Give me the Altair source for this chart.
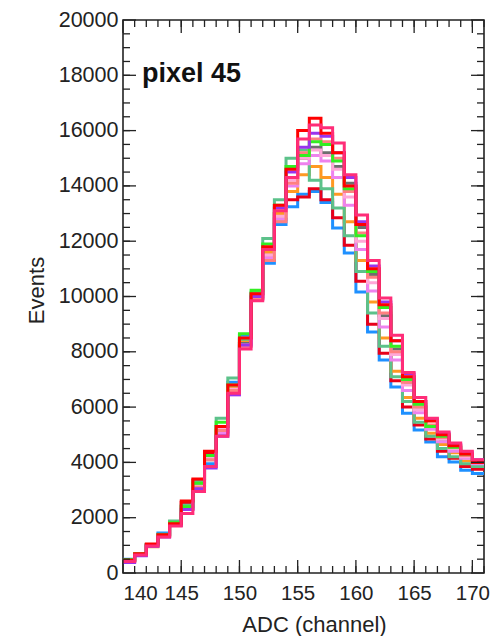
import altair as alt
import pandas as pd

# ADC channel bin starts (width 1 channel)
channels = list(range(140, 171))

# Series values (Events per bin)
s_blue = [500, 660, 1030, 1450, 1850, 2400, 3000, 3950, 5300, 6900, 8600, 10100,
          11200, 12600, 13250, 13700, 13800, 13400, 12480, 11570, 10160, 8720, 7700, 6730, 5780, 5170, 4740, 4200, 4010, 3720, 3600]
s_red_lo = [470, 680, 1020, 1350, 1760, 2550, 3350, 4350, 5100, 6600, 8300, 9950,
            11500, 13000, 13500, 13600, 13900, 13500, 12850, 11850, 10550, 9000, 7950, 6950, 6000, 5350, 4850, 4400, 4150, 3850, 3750]
s_orange = [460, 640, 950, 1350, 1760, 2350, 3200, 4200, 5200, 6700, 8400, 10050,
            11600, 13000, 13800, 14400, 14700, 14300, 13700, 12700, 11300, 9800, 8500, 7300, 6350, 5600, 5050, 4650, 4350, 4050, 3900]
s_seagreen = [440, 670, 1000, 1400, 1880, 2450, 3300, 4250, 5600, 7050, 8450, 10150,
              12100, 13500, 15000, 15300, 14200, 13900, 13200, 12200, 10900, 9400, 8200, 7100, 6200, 5450, 4950, 4500, 4200, 3950, 3850]
s_gray = [430, 650, 1000, 1330, 1740, 2330, 3150, 4100, 5000, 6600, 8300, 9950,
          11300, 12800, 14300, 15000, 15400, 15200, 14700, 14100, 12500, 10800, 9300, 8100, 6900, 6000, 5300, 4800, 4450, 4200, 4000]
s_violet = [430, 640, 990, 1340, 1760, 2350, 3100, 3850, 5050, 6450, 8200, 9900,
            11400, 12800, 14000, 14800, 15100, 14900, 14300, 13300, 11700, 10200, 8900, 7700, 6600, 5800, 5200, 4750, 4400, 4150, 3950]
s_lightpink = [450, 660, 1000, 1330, 1750, 2350, 3150, 4150, 5200, 6650, 8250, 9950,
               11500, 12900, 14200, 15000, 15300, 15100, 14600, 13600, 12000, 10500, 9200, 7900, 6800, 5900, 5300, 4850, 4500, 4200, 4000]
s_salmon = [440, 650, 990, 1320, 1740, 2300, 3100, 4100, 5150, 6600, 8200, 9900,
            11300, 12700, 14100, 15200, 15700, 15600, 15000, 13800, 12300, 10700, 9400, 8000, 6900, 6000, 5350, 4900, 4550, 4250, 4050]
s_lime = [480, 700, 1010, 1380, 1820, 2400, 3250, 4250, 5450, 6800, 8650, 10230,
          11900, 13300, 14700, 15100, 15600, 15500, 14900, 13900, 12200, 10900, 9600, 8200, 7000, 6100, 5300, 4950, 4550, 4300, 4000]
s_purple = [380, 620, 970, 1300, 1720, 2300, 3050, 3800, 4950, 6450, 8250, 10000,
            11700, 13200, 14500, 15400, 15900, 15800, 15200, 14300, 12700, 11100, 9800, 8400, 7200, 6200, 5550, 5050, 4650, 4350, 4100]
s_red_hi = [460, 700, 1050, 1380, 1780, 2600, 3400, 4400, 5300, 6800, 8500, 10100,
            11800, 13300, 14600, 16000, 16450, 15900, 15200, 14000, 12600, 11000, 9700, 8400, 7100, 6200, 5500, 5000, 4600, 4300, 4000]
s_deeppink = [420, 650, 980, 1300, 1700, 2150, 2950, 3850, 4950, 6500, 8100, 9850,
              11700, 13100, 14300, 15700, 16200, 16100, 15550, 14400, 12950, 11300, 9950, 8600, 7250, 6350, 5600, 5100, 4700, 4400, 4100]

series_names = ["s01", "s02", "s03", "s04", "s05", "s06", "s07", "s08", "s09", "s10", "s11", "s12"]
series_values = [s_blue, s_red_lo, s_orange, s_seagreen, s_gray, s_violet,
                 s_lightpink, s_salmon, s_lime, s_purple, s_red_hi, s_deeppink]
series_colors = ["#1e90ff", "#e8001a", "#ff9922", "#5cc28a", "#6e6e6e", "#ee82ee",
                 "#ffa8d8", "#ff8080", "#33ee22", "#9933ee", "#ff0000", "#ff2d78"]

x_major = [140, 145, 150, 155, 160, 165, 170]
x_minor = list(range(141, 172))
y_major = list(range(0, 20001, 2000))
y_minor = list(range(500, 20000, 500))

rows = []
for name, vals in zip(series_names, series_values):
    for c, v in zip(channels, vals):
        rows.append({"series": name, "adc": c, "events": v})
    rows.append({"series": name, "adc": channels[-1] + 1, "events": vals[-1]})
df = pd.DataFrame(rows)

W, H = 361, 553
xscale = alt.Scale(domain=[140, 171], nice=False, zero=False)
yscale = alt.Scale(domain=[0, 20000], nice=False)

x_axis = alt.Axis(values=x_major, format="d", title="ADC (channel)", titleX=191, titleY=58,
                  titleBaseline="alphabetic", titleAnchor="middle", labelPadding=10,
                  labelFontSize=20.5)
y_axis = alt.Axis(values=y_major, format="d", title="Events", titleX=-80, titleY=270,
                  titleBaseline="alphabetic", titleAlign="center", labelPadding=5)

lines = alt.Chart(df).mark_line(interpolate="step-after", strokeWidth=3, clip=True).encode(
    x=alt.X("adc:Q", scale=xscale, axis=x_axis),
    y=alt.Y("events:Q", scale=yscale, axis=y_axis),
    color=alt.Color("series:N", scale=alt.Scale(domain=series_names, range=series_colors), legend=None),
    order=alt.Order("adc:Q"),
)

tick_color = "#222222"
xmaj = pd.DataFrame({"t": x_major})
xmin = pd.DataFrame({"t": x_minor})
ymaj = pd.DataFrame({"t": y_major})
ymin = pd.DataFrame({"t": y_minor})

def xticks(d, length):
    out = []
    for y0, y1 in [(H, H - length), (0, length)]:
        out.append(alt.Chart(d).mark_rule(color=tick_color, strokeWidth=1.3).encode(
            x=alt.X("t:Q", scale=xscale, axis=x_axis), x2="t:Q",
            y=alt.value(y0), y2=alt.value(y1)))
    return out

def yticks(d, length):
    out = []
    for x0, x1 in [(0, length), (W, W - length)]:
        out.append(alt.Chart(d).mark_rule(color=tick_color, strokeWidth=1.3).encode(
            y=alt.Y("t:Q", scale=yscale, axis=y_axis), y2="t:Q",
            x=alt.value(x0), x2=alt.value(x1)))
    return out

label = alt.Chart(pd.DataFrame({"txt": ["pixel 45"]})).mark_text(
    align="left", baseline="alphabetic", fontSize=27, fontWeight="bold",
    font="Liberation Sans", color="#111111"
).encode(text="txt:N", x=alt.value(19), y=alt.value(62))

layers = [lines] + xticks(xmaj, 13) + xticks(xmin, 7) + yticks(ymaj, 13) + yticks(ymin, 7) + [label]

chart = alt.layer(*layers).properties(
    width=W, height=H,
    autosize=alt.AutoSizeParams(type="none"),
    padding={"left": 115, "top": 12, "right": 6, "bottom": 63},
).configure_view(
    stroke="#222222", strokeWidth=1.6
).configure_axis(
    ticks=False, tickSize=0, domain=False, grid=False,
    labelFont="Liberation Sans", labelFontSize=21.5, labelColor="#222222",
    titleFont="Liberation Sans", titleFontSize=22, titleColor="#222222", titleFontWeight="normal",
)

chart.save("out.html", embed_options={"renderer": "svg", "actions": False})
